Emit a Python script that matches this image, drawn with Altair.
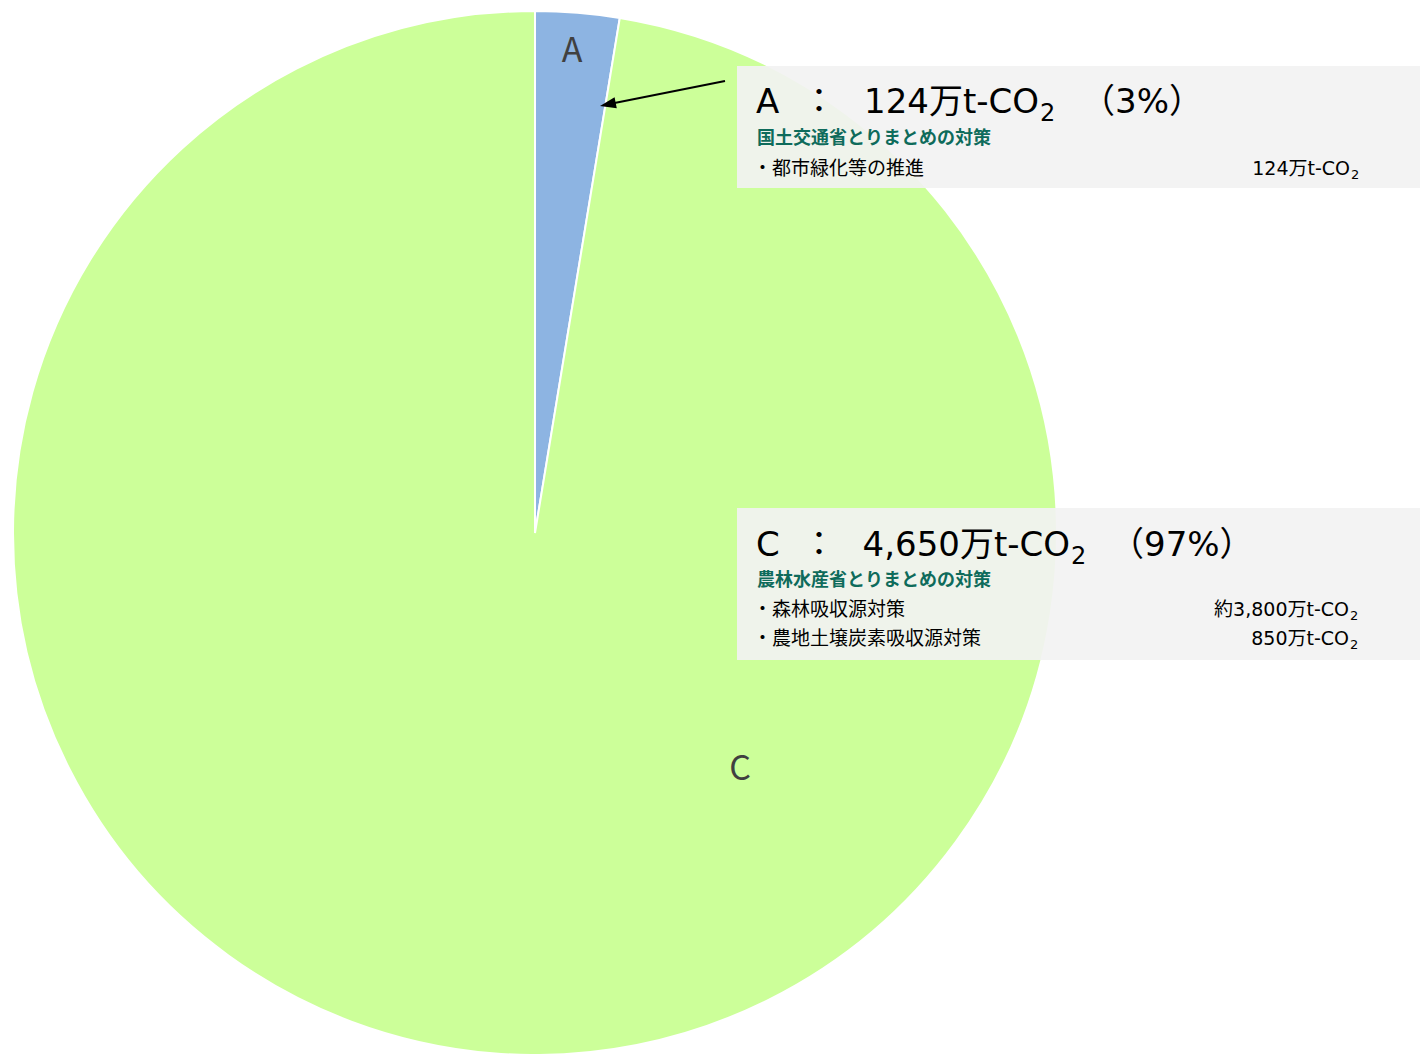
import altair as alt
import pandas as pd

# ---- data ----
slice_labels = ["A", "C"]
slice_values = [124, 4650]          # 万t-CO2
slice_colors = ["#8DB4E2", "#CCFF99"]

a_title = ["A", "：", "124万t-CO", "2", "（3%）"]
a_heading = "国土交通省とりまとめの対策"
a_items = ["・都市緑化等の推進"]
a_item_values = ["124万t-CO"]

c_title = ["C", "：", "4,650万t-CO", "2", "（97%）"]
c_heading = "農林水産省とりまとめの対策"
c_items = ["・森林吸収源対策", "・農地土壌炭素吸収源対策"]
c_item_values = ["約3,800万t-CO", "850万t-CO"]

FONT = "Noto Sans CJK JP"
LATIN = "DejaVu Sans, Noto Sans CJK JP"
W, H = 1420, 1054

pie_df = pd.DataFrame({"label": slice_labels, "value": slice_values, "order": [0, 1]})

pie = alt.Chart(pie_df).mark_arc(radius=522, stroke="white", strokeWidth=2).encode(
    theta=alt.Theta("value:Q", stack=True),
    order=alt.Order("order:Q"),
    color=alt.Color("label:N", scale=alt.Scale(domain=slice_labels, range=slice_colors), legend=None),
    x=alt.value(535),
    y=alt.value(533),
)


def txt(s, x, y, size, color="#000000", align="left", baseline="alphabetic", weight="normal", font=FONT):
    return alt.Chart(pd.DataFrame({"t": [s]})).mark_text(
        font=font, fontSize=size, color=color, align=align, baseline=baseline, fontWeight=weight
    ).encode(text="t:N", x=alt.value(x), y=alt.value(y))


def box(x1, x2, y1, y2):
    return alt.Chart(pd.DataFrame({"k": [0]})).mark_rect(color="#F2F2F2", opacity=0.92).encode(
        x=alt.value(x1), x2=alt.value(x2), y=alt.value(y1), y2=alt.value(y2)
    )


layers = [pie]

# pie labels
layers.append(txt(slice_labels[0], 572, 52, 34, "#404040", align="center", baseline="middle"))
layers.append(txt(slice_labels[1], 740, 770, 34, "#404040", align="center", baseline="middle"))

# arrow
arrow_line = alt.Chart(pd.DataFrame({"k": [0]})).mark_rule(color="black", strokeWidth=2).encode(
    x=alt.value(725), y=alt.value(81), x2=alt.value(612), y2=alt.value(103.5)
)
arrow_head = alt.Chart(pd.DataFrame({"k": [0]})).mark_point(
    shape="M0,0 L2,-0.7 L2,0.7 Z", filled=True, color="black", opacity=1, size=256, angle=348.6
).encode(x=alt.value(600), y=alt.value(106))
layers += [arrow_line, arrow_head]

HEAD_COLOR = "#0E6B5B"
TS = 34   # title size
SS = 19   # small size

# box A
layers.append(box(737, 1420, 66, 188))
layers.append(txt(a_title[0], 756, 113, TS, font=LATIN))
layers.append(txt(a_title[1], 802, 113, TS))
layers.append(txt(a_title[2], 1039, 113, TS, align="right", font=LATIN))
layers.append(txt(a_title[3], 1040, 121, 24, font=LATIN))
layers.append(txt(a_title[4], 1081, 113, TS, font=LATIN))
layers.append(txt(a_heading, 757, 139, 18, HEAD_COLOR, baseline="middle", weight="bold"))
layers.append(txt(a_items[0], 753, 169, SS, baseline="middle"))
layers.append(txt(a_item_values[0], 1350, 169, SS, align="right", baseline="middle", font=LATIN))
layers.append(txt("2", 1351, 179, 13, font=LATIN))

# box C
layers.append(box(737, 1420, 508, 660))
layers.append(txt(c_title[0], 756, 556, TS, font=LATIN))
layers.append(txt(c_title[1], 802, 556, TS))
layers.append(txt(c_title[2], 1070, 556, TS, align="right", font=LATIN))
layers.append(txt(c_title[3], 1071, 564, 24, font=LATIN))
layers.append(txt(c_title[4], 1110, 556, TS, font=LATIN))
layers.append(txt(c_heading, 757, 581, 18, HEAD_COLOR, baseline="middle", weight="bold"))
for i, (item, val) in enumerate(zip(c_items, c_item_values)):
    yy = 610 + i * 29
    layers.append(txt(item, 753, yy, SS, baseline="middle"))
    layers.append(txt(val, 1349, yy, SS, align="right", baseline="middle", font=LATIN))
    layers.append(txt("2", 1350, yy + 10, 13, font=LATIN))

chart = alt.layer(*layers).properties(
    width=W, height=H, autosize=alt.AutoSizeParams(type="none"), padding=0
).configure_view(stroke=None)

chart.save("out.html", embed_options={"renderer": "svg", "actions": False})
